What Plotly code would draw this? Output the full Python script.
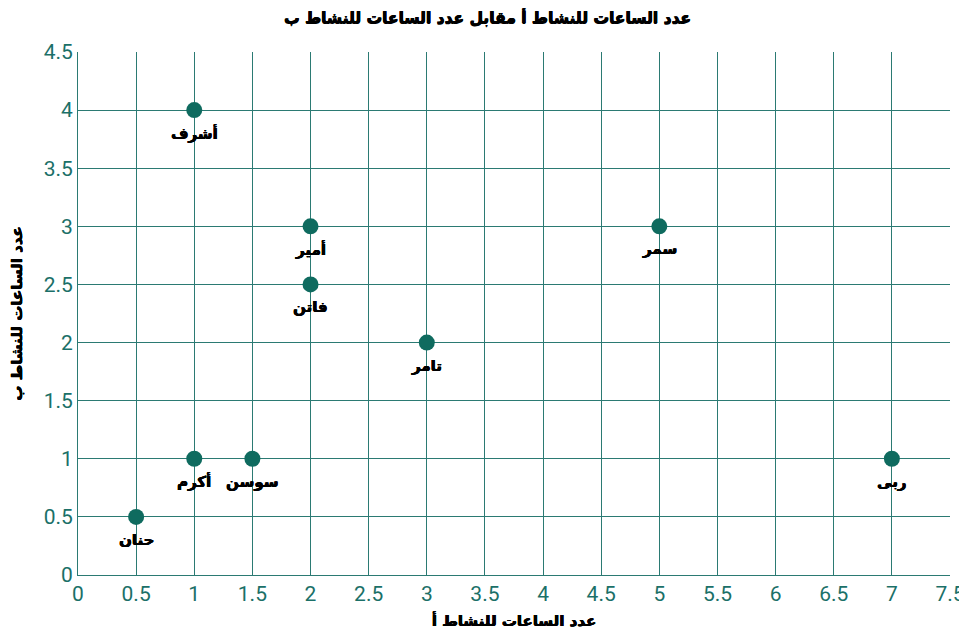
import plotly.graph_objects as go

names = ["حنان", "أكرم", "سوسن", "أشرف", "أمير", "فاتن", "تامر", "سمر", "ربى"]
activity_a = [0.5, 1, 1.5, 1, 2, 2, 3, 5, 7]
activity_b = [0.5, 1, 1, 4, 3, 2.5, 2, 3, 1]

teal = "#0f6b5f"
grid = "#2b7a73"
tick_col = "#1b7068"
afont = "DejaVu Sans"
fake_bold = "0.5px 0 0 #000, -0.3px 0 0 #000, 0 0.3px 0 #000"

fig = go.Figure()
fig.add_trace(go.Scatter(
    x=activity_a, y=activity_b, mode="markers",
    marker=dict(color=teal, size=16),
    cliponaxis=False, showlegend=False,
))

for nm, xa, yb in zip(names, activity_a, activity_b):
    fig.add_annotation(x=xa, y=yb, text=nm, showarrow=False, yshift=-23,
                       font=dict(family=afont, size=15, color="#000000", weight="bold",
                                 shadow=fake_bold))

fig.update_layout(
    width=959, height=629,
    margin=dict(l=70, r=17, t=44, b=62),
    paper_bgcolor="white", plot_bgcolor="white",
    title=dict(text="عدد الساعات للنشاط أ مقابل عدد الساعات للنشاط ب",
               x=0.5, xanchor="center", y=0.993, yanchor="top",
               font=dict(family=afont, size=15.5, color="#000000", weight="bold",
                         shadow=fake_bold)),
    xaxis=dict(range=[0, 7.5], dtick=0.5, showgrid=True, gridcolor=grid, gridwidth=1,
               zeroline=False, showline=True, linecolor=grid, linewidth=1, automargin=False,
               ticks="", tickfont=dict(family="Roboto", size=21, color=tick_col),
               title=dict(text="عدد الساعات للنشاط أ", standoff=10,
                          font=dict(family=afont, size=15, color="#000000", weight="bold",
                                    shadow=fake_bold))),
    yaxis=dict(range=[0, 4.5], dtick=0.5, showgrid=True, gridcolor=grid, gridwidth=1,
               zeroline=False, showline=True, linecolor=grid, linewidth=1, automargin=False,
               ticks="", tickfont=dict(family="Roboto", size=21, color=tick_col),
               title=dict(text="عدد الساعات للنشاط ب", standoff=18,
                          font=dict(family=afont, size=15, color="#000000", weight="bold",
                                    shadow=fake_bold))),
)

fig.write_html("out.html")
